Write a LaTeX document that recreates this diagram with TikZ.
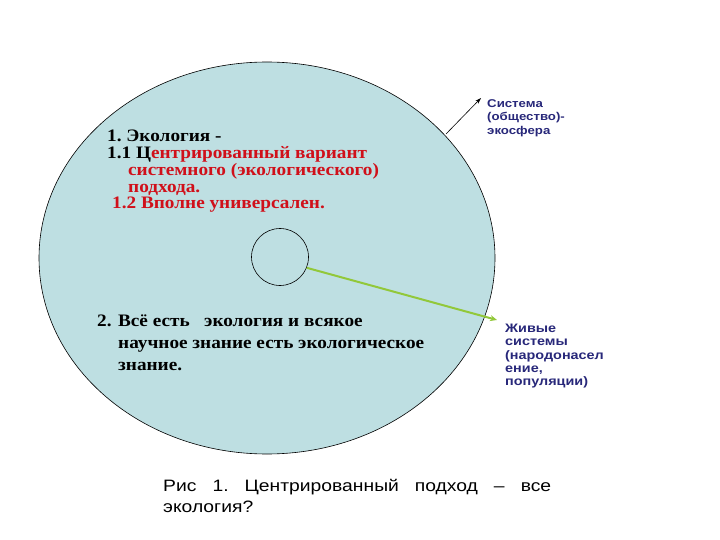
\documentclass[tikz,border=0pt]{standalone}
\usepackage{fontspec}
\setmainfont{Liberation Serif}[FakeStretch=1.10]
\newfontfamily\arial{Liberation Sans}[FakeStretch=1.17]
\usetikzlibrary{shapes.geometric,arrows.meta}
\definecolor{ecofill}{HTML}{BEDFE2}
\definecolor{redtxt}{HTML}{D0101A}
\definecolor{navy}{HTML}{28287A}
\definecolor{lime}{HTML}{92C83A}
\tikzset{
  ltext/.style={anchor=base west,inner sep=0pt,font=\fontsize{17.5}{17.5}\selectfont\bfseries},
  rtext/.style={anchor=north west,inner sep=0pt,align=left,text=navy,font=\arial\bfseries},
  captxt/.style={anchor=base west,inner sep=0pt,font=\arial\fontsize{16.5}{16.5}\selectfont}
}
\begin{document}
\begin{tikzpicture}[x=1pt,y=-1pt]
\useasboundingbox (0,0) rectangle (720,540);
\fill[white] (0,0) rectangle (720,540);
\node[ellipse,draw=black,line width=0.6pt,fill=ecofill,minimum width=456pt,minimum height=392pt,inner sep=0pt] (eco) at (267,258) {};
\node[circle,draw=black,line width=0.6pt,minimum size=57pt,inner sep=0pt] (core) at (280,257) {};
\coordinate (gtip) at (497,320);
\draw[lime,line width=2pt,-{Stealth[length=7pt,width=6pt]}] (core.-22) -- (gtip);
\coordinate (s1) at (446,134);
\coordinate (t1) at (481,98);
\draw[black,line width=0.6pt,-{Stealth[length=6pt,width=4pt]}] (s1) -- (t1);
\node[rtext,font=\arial\bfseries\fontsize{11.3}{13.5}\selectfont] (sys) at (487,99) {Система\\(общество)-\\экосфера};
\node[rtext,font=\arial\bfseries\fontsize{12.3}{13.3}\selectfont] (liv) at (505,324) {Живые\\системы\\(народонасел\\ение,\\популяции)};
\node[ltext] (l1) at (107,142) {1.\ Экология -};
\node[ltext] (l2) at (107,159) {1.1 Ц\textcolor{redtxt}{ентрированный вариант}};
\node[ltext,text=redtxt] (l3) at (128,175.5) {системного (экологического)};
\node[ltext,text=redtxt] (l4) at (128,193) {подхода.};
\node[ltext,text=redtxt] (l5) at (112,209) {1.2 Вполне универсален.};
\node[ltext] (m1) at (97,326) {2. Всё есть\ \ \ экология и всякое};
\node[ltext] (m2) at (118,348) {научное знание есть экологическое};
\node[ltext] (m3) at (118,370) {знание.};
\node[captxt] (c1) at (163,491) {\hbox to 388pt{Рис\hfill 1.\hfill Центрированный\hfill подход\hfill –\hfill все}};
\node[captxt] (c2) at (163,512) {экология?};
\end{tikzpicture}
\end{document}
